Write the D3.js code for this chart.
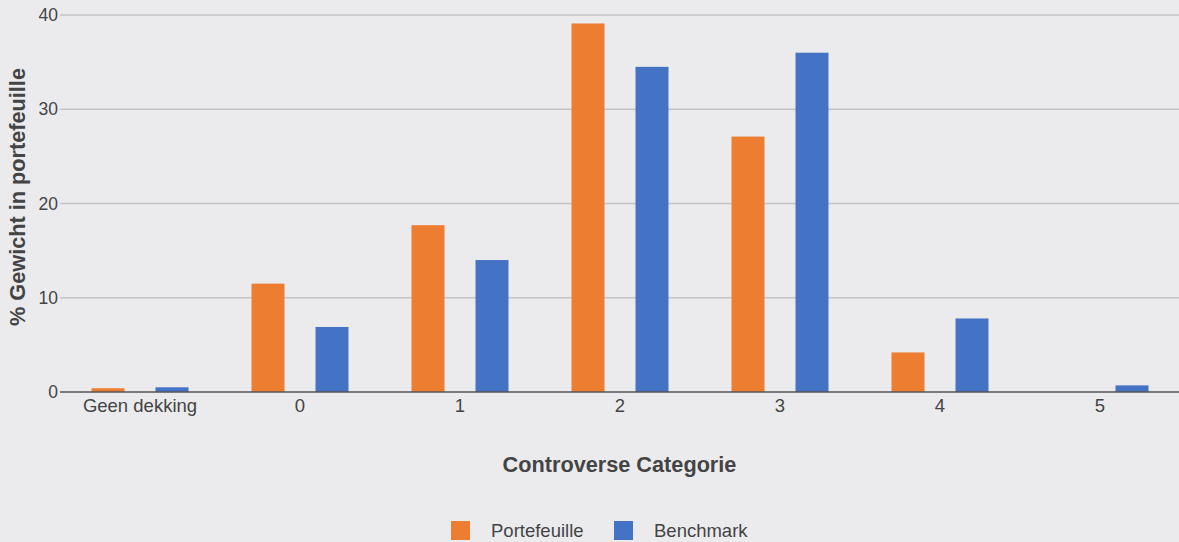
<!DOCTYPE html>
<html>
<head>
<meta charset="utf-8">
<script src="https://cdn.jsdelivr.net/npm/d3@7"></script>
<style>
  body { margin: 0; background: #ebebee; }
  svg { display: block; font-family: "Liberation Sans", Arial, sans-serif; }
</style>
</head>
<body>
<div id="chart"></div>
<script>
// categories and values
const categories = ["Geen dekking", "0", "1", "2", "3", "4", "5"];
const portefeuille = [0.4, 11.5, 17.7, 39.1, 27.1, 4.2, 0];
const benchmark = [0.5, 6.9, 14.0, 34.5, 36.0, 7.8, 0.7];
const seriesNames = ["Portefeuille", "Benchmark"];
const seriesColors = ["#ed7d31", "#4472c4"];
const yTicks = [0, 10, 20, 30, 40];

const width = 1179, height = 542;
const margin = {top: 15, right: -1, bottom: 150, left: 60};

const svg = d3.select("#chart").append("svg")
  .attr("width", width)
  .attr("height", height);

svg.append("rect").attr("width", width).attr("height", height).attr("fill", "#ebebee");

const x = d3.scaleBand()
  .domain(categories)
  .range([margin.left, width - margin.right]);

const y = d3.scaleLinear()
  .domain([0, 40])
  .range([height - margin.bottom, margin.top]);

const barW = 33;
const offset = 32;

// gridlines
svg.append("g")
  .selectAll("line")
  .data(yTicks.filter(d => d > 0))
  .enter().append("line")
  .attr("x1", margin.left).attr("x2", width)
  .attr("y1", d => y(d)).attr("y2", d => y(d))
  .attr("stroke", "#c4c4c6").attr("stroke-width", 1.5);

// y tick labels
svg.append("g")
  .selectAll("text")
  .data(yTicks)
  .enter().append("text")
  .attr("x", margin.left - 2)
  .attr("y", d => y(d))
  .attr("dy", "0.35em")
  .attr("text-anchor", "end")
  .attr("font-size", 17.5)
  .attr("fill", "#444")
  .text(d => d);

// bars
const rows = categories.map((c, i) => ({cat: c, vals: [portefeuille[i], benchmark[i]]}));
const groups = svg.append("g")
  .selectAll("g")
  .data(rows)
  .enter().append("g");

groups.selectAll("rect")
  .data(d => d.vals.map((v, k) => ({cat: d.cat, v: v, k: k})))
  .enter().append("rect")
  .attr("x", d => x(d.cat) + x.bandwidth() / 2 + (d.k === 0 ? -offset : offset) - barW / 2)
  .attr("y", d => y(d.v))
  .attr("width", barW)
  .attr("height", d => y(0) - y(d.v))
  .attr("fill", d => seriesColors[d.k]);

// zero axis line
svg.append("line")
  .attr("x1", margin.left).attr("x2", width)
  .attr("y1", y(0)).attr("y2", y(0))
  .attr("stroke", "#555").attr("stroke-width", 1.5);

// x axis labels
svg.append("g")
  .selectAll("text")
  .data(categories)
  .enter().append("text")
  .attr("x", d => x(d) + x.bandwidth() / 2)
  .attr("y", y(0) + 20)
  .attr("text-anchor", "middle")
  .attr("font-size", 18.5)
  .attr("fill", "#444")
  .text(d => d);

// axis titles
svg.append("text")
  .attr("x", (margin.left + width) / 2)
  .attr("y", 472)
  .attr("text-anchor", "middle")
  .attr("font-size", 21.7)
  .attr("font-weight", "bold")
  .attr("fill", "#444")
  .text("Controverse Categorie");

svg.append("text")
  .attr("transform", "translate(25," + 197 + ") rotate(-90)")
  .attr("text-anchor", "middle")
  .attr("font-size", 21.7)
  .attr("font-weight", "bold")
  .attr("fill", "#444")
  .text("% Gewicht in portefeuille");

// legend
const legendX = [451, 614];
const legend = svg.append("g")
  .selectAll("g")
  .data(seriesNames)
  .enter().append("g")
  .attr("transform", (d, i) => "translate(" + legendX[i] + ",521)");

legend.append("rect")
  .attr("width", 19).attr("height", 19)
  .attr("fill", (d, i) => seriesColors[i]);

legend.append("text")
  .attr("x", 40)
  .attr("y", 10)
  .attr("dy", "0.35em")
  .attr("font-size", 18.5)
  .attr("fill", "#444")
  .text(d => d);
</script>
</body>
</html>
